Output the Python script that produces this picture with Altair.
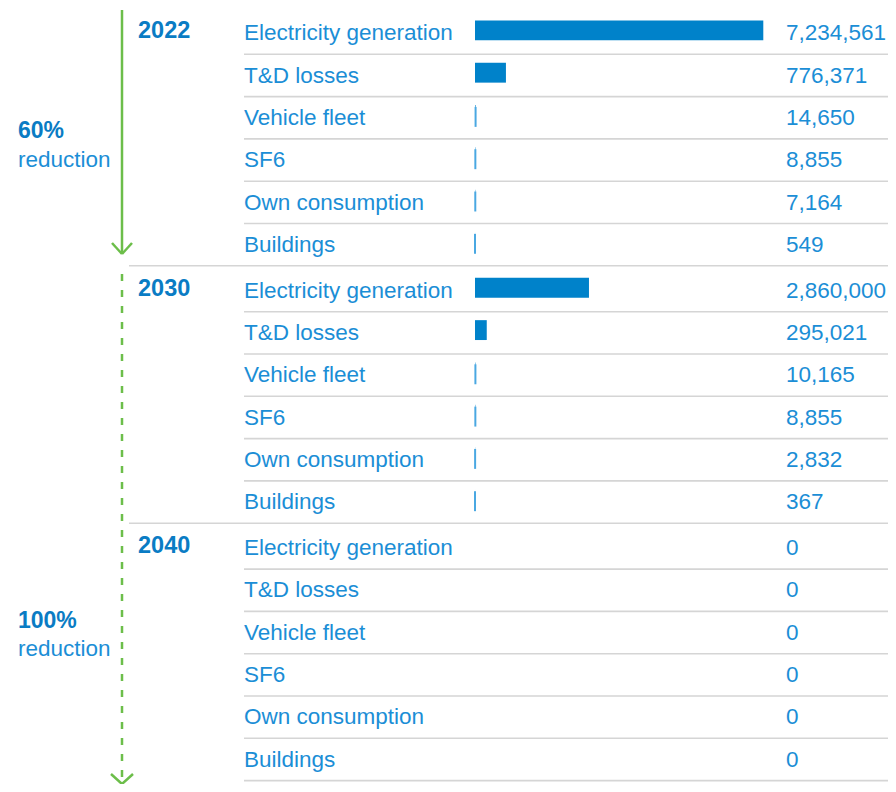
import altair as alt
import pandas as pd

# ---- data ----
years = ["2022", "2030", "2040"]
categories = ["Electricity generation", "T&D losses", "Vehicle fleet", "SF6",
              "Own consumption", "Buildings"]
values_2022 = [7234561, 776371, 14650, 8855, 7164, 549]
values_2030 = [2860000, 295021, 10165, 8855, 2832, 367]
values_2040 = [0, 0, 0, 0, 0, 0]
reduction_pct = ["60%", "100%"]
reduction_word = ["reduction", "reduction"]

# ---- layout (style only) ----
W, H = 880, 776
ROW = 42.3            # px per row
GROUP_STEP = 6.085    # rows per group block
TOP = 24.3            # plot-y of the first row centre
p_min = -TOP / ROW
p_max = (H - TOP) / ROW

X0 = 467              # plot-x of the bar baseline
FULL = 288.3          # px of the largest bar
VMAX = max(values_2022)
k = FULL / VMAX
x_lo = -X0 / k
x_hi = (W - X0) / k

FONT = "Liberation Sans"
BLUE_TXT = "#1b8ed6"
BLUE_DARK = "#0a7cc4"
BAR = "#0082ca"
TICK = "#4aa8e2"
GREEN = "#6cbe4a"
GRID = "#d5d5d5"

rows = []
for g, (yr, vals) in enumerate(zip(years, [values_2022, values_2030, values_2040])):
    for r, (c, v) in enumerate(zip(categories, vals)):
        rows.append(dict(year=yr, category=c, value=v, g=g, r=r,
                         pos=g * GROUP_STEP + r,
                         grpend=int(r == len(categories) - 1 and g < len(years) - 1)))
df = pd.DataFrame(rows)

yscale = alt.Scale(domain=[p_min, p_max], reverse=True, nice=False, zero=False)
xscale = alt.Scale(domain=[x_lo, x_hi], nice=False, zero=False)

base = alt.Chart(df)

bars = base.transform_filter("datum.value > 0").transform_calculate(
    top="datum.pos - 0.28", bot="datum.pos + 0.19"
).mark_rect(color=BAR).encode(
    x=alt.X("value:Q", scale=xscale, axis=None),
    x2=alt.datum(0),
    y=alt.Y("top:Q", scale=yscale, axis=None),
    y2="bot:Q",
)

ticks = base.transform_filter("datum.value > 0 && datum.value < 50000").transform_calculate(
    top="datum.pos - 0.236", bot="datum.pos + 0.236"
).mark_rule(color=TICK, strokeWidth=2).encode(
    x=alt.X("value:Q", scale=xscale, axis=None),
    y=alt.Y("top:Q", scale=yscale, axis=None),
    y2="bot:Q",
)

sep_inner = base.transform_filter("datum.grpend == 0").transform_calculate(
    sep="datum.pos + 0.52"
).mark_rule(color=GRID, strokeWidth=1.6).encode(
    x=alt.value(236), x2=alt.value(W),
    y=alt.Y("sep:Q", scale=yscale, axis=None),
)

sep_group = base.transform_filter("datum.grpend == 1").transform_calculate(
    sep="datum.pos + 0.52"
).mark_rule(color=GRID, strokeWidth=1.6).encode(
    x=alt.value(121), x2=alt.value(W),
    y=alt.Y("sep:Q", scale=yscale, axis=None),
)

labels = base.mark_text(align="left", baseline="middle", font=FONT, fontSize=22.5,
                        color=BLUE_TXT, dy=1).encode(
    x=alt.value(236),
    y=alt.Y("pos:Q", scale=yscale, axis=None),
    text="category:N",
)

values_txt = base.mark_text(align="left", baseline="middle", font=FONT, fontSize=22.5,
                            color=BLUE_TXT, dy=1).encode(
    x=alt.value(778),
    y=alt.Y("pos:Q", scale=yscale, axis=None),
    text=alt.Text("value:Q", format=","),
)

year_txt = base.transform_filter("datum.r == 0").mark_text(
    align="left", baseline="middle", font=FONT, fontSize=23.5, fontWeight="bold",
    color=BLUE_DARK, dy=-1).encode(
    x=alt.value(130),
    y=alt.Y("pos:Q", scale=yscale, axis=None),
    text="year:N",
)

layers = [sep_inner, sep_group, bars, ticks, labels, values_txt, year_txt]

# left annotations
pct_y = [123, 612.7]
word_y = [152, 640.5]
for i in range(len(reduction_pct)):
    d = pd.DataFrame({"pct": [reduction_pct[i]], "word": [reduction_word[i]]})
    c = alt.Chart(d)
    layers.append(c.mark_text(align="left", baseline="middle", font=FONT, fontSize=23,
                              fontWeight="bold", color=BLUE_DARK).encode(
        x=alt.value(10), y=alt.value(pct_y[i]), text="pct:N"))
    layers.append(c.mark_text(align="left", baseline="middle", font=FONT, fontSize=22.5,
                              color=BLUE_TXT).encode(
        x=alt.value(10), y=alt.value(word_y[i]), text="word:N"))

# arrows (decoration)
one = alt.Chart(pd.DataFrame({"a": [0]}))
AX = 114
arrow_specs = [
    # solid arrow shaft and head
    (AX, 2, AX, 246, None),
    (AX - 10, 235, AX, 246, None),
    (AX + 10, 235, AX, 246, None),
    # dashed arrow shaft and head
    (AX, 266, AX, 776, [7, 9]),
    (AX - 11, 766, AX, 776, None),
    (AX + 11, 766, AX, 776, None),
]
for (x1, y1, x2, y2, dash) in arrow_specs:
    kw = dict(color=GREEN, strokeWidth=2.5)
    if dash:
        kw["strokeDash"] = dash
    layers.append(one.mark_rule(**kw).encode(
        x=alt.value(x1), y=alt.value(y1), x2=alt.value(x2), y2=alt.value(y2)))

chart = alt.layer(*layers).properties(
    width=W, height=H, padding=0,
    autosize=alt.AutoSizeParams(type="none"),
).configure_view(stroke=None)

chart.save("out.html", embed_options={"renderer": "svg", "actions": False})
